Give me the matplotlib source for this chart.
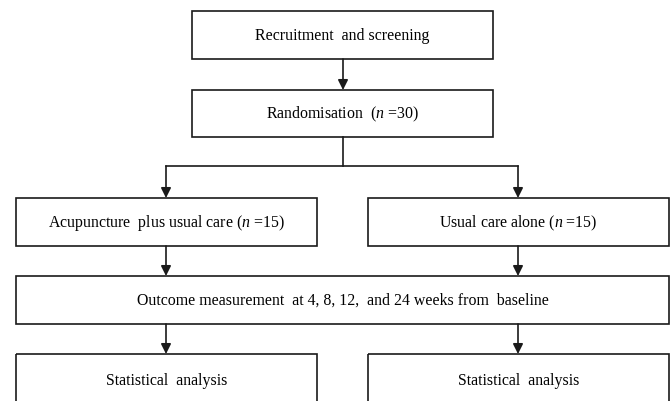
import matplotlib
matplotlib.use("Agg")
import matplotlib.pyplot as plt
from matplotlib.patches import Rectangle

plt.rcParams["font.family"] = ["Liberation Serif", "DejaVu Serif"]
plt.rcParams["mathtext.fontset"] = "custom"
plt.rcParams["mathtext.rm"] = "Liberation Serif"
plt.rcParams["mathtext.it"] = "Liberation Serif:italic"

# box labels, top to bottom
labels = [
    "Recruitment  and screening",
    "Randomisation  ($n$ =30)",
    "Acupuncture  plus usual care ($n$ =15)",
    "Usual care alone ($n$ =15)",
    "Outcome measurement  at 4, 8, 12,  and 24 weeks from  baseline",
    "Statistical  analysis",
    "Statistical  analysis",
]
# box extents in pixels: left, top, right, bottom
boxes = [
    (192, 12, 493, 60),
    (192, 91, 493, 138),
    (16, 199, 317, 247),
    (368, 199, 669, 247),
    (16, 277, 669, 325),
    (16, 355, 317, 420),
    (368, 355, 669, 420),
]
text_y = [36, 114, 223, 223, 301, 381, 381]

# arrows: x, y start, y end
arrows = [
    (343, 60, 91),
    (166, 167, 199), (518, 167, 199),
    (166, 247, 277), (518, 247, 277),
    (166, 325, 355), (518, 325, 355),
]

fig = plt.figure(figsize=(6.71, 4.02), dpi=100)
ax = fig.add_axes([0, 0, 1, 1])
ax.set_xlim(0, 671)
ax.set_ylim(402, 0)
ax.axis("off")

line_col = "#1a1a1a"
lw = 1.2

for (l, t, r, b), lab, ty in zip(boxes, labels, text_y):
    ax.add_patch(Rectangle((l, t), r - l, b - t, fill=False, ec=line_col, lw=lw))
    ax.text((l + r) / 2, ty, lab, ha="center", va="center", fontsize=11.4, color="black")

# split line below randomisation
ax.plot([343, 343], [138, 167], color=line_col, lw=lw)
ax.plot([166, 518], [167, 167], color=line_col, lw=lw)

for x, y0, y1 in arrows:
    ax.annotate("", xy=(x, y1), xytext=(x, y0),
                arrowprops=dict(arrowstyle="-|>", color=line_col, lw=lw,
                                mutation_scale=15, shrinkA=0, shrinkB=0))

fig.savefig("out.png", dpi=100)
